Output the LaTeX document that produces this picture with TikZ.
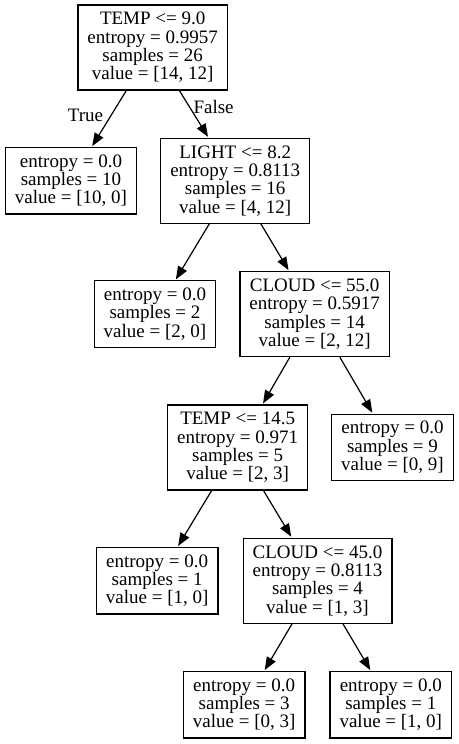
\documentclass[tikz,border=0pt]{standalone}
\usepackage{fontspec}
\setmainfont{Liberation Serif}
\usepackage{tikz}
\usetikzlibrary{arrows.meta,positioning}

\begin{document}
\begin{tikzpicture}[->,>={Triangle[length=13bp,width=10bp]},shorten >=1pt,auto,
                    node distance=133.3bp, line width=1.2bp,
                    font=\fontsize{19bp}{18.3bp}\selectfont]

  \tikzstyle{split} = [draw, rectangle, align=center, inner xsep=9.5bp,
                       inner ysep=4bp, minimum height=85bp]
  \tikzstyle{leaf}  = [draw, rectangle, align=center, inner xsep=9.5bp,
                       inner ysep=4bp, minimum height=66.5bp]
  \useasboundingbox (-152.7bp,47.5bp) rectangle (306.3bp,-696.5bp);

  \node[split] (A)                                {TEMP <= 9.0\\entropy = 0.9957\\samples = 26\\value = [14, 12]};
  \node[leaf]  (B) [below of=A, xshift=-81.7bp]   {entropy = 0.0\\samples = 10\\value = [10, 0]};
  \node[split] (C) [below of=A, xshift=82.5bp]    {LIGHT <= 8.2\\entropy = 0.8113\\samples = 16\\value = [4, 12]};
  \node[leaf]  (D) [below of=C, xshift=-80.2bp]   {entropy = 0.0\\samples = 2\\value = [2, 0]};
  \node[split] (E) [below of=C, xshift=79.5bp]    {CLOUD <= 55.0\\entropy = 0.5917\\samples = 14\\value = [2, 12]};
  \node[split] (F) [below of=E, xshift=-77bp]     {TEMP <= 14.5\\entropy = 0.971\\samples = 5\\value = [2, 3]};
  \node[leaf]  (G) [below of=E, xshift=77.8bp]    {entropy = 0.0\\samples = 9\\value = [0, 9]};
  \node[leaf]  (H) [below of=F, xshift=-80.5bp]   {entropy = 0.0\\samples = 1\\value = [1, 0]};
  \node[split] (I) [below of=F, xshift=79.8bp]    {CLOUD <= 45.0\\entropy = 0.8113\\samples = 4\\value = [1, 3]};
  \node[leaf]  (J) [below of=I, xshift=-73.3bp, yshift=9.2bp] {entropy = 0.0\\samples = 3\\value = [0, 3]};
  \node[leaf]  (K) [below of=I, xshift=73.3bp, yshift=9.2bp]  {entropy = 0.0\\samples = 1\\value = [1, 0]};

  \path (A) edge  node [pos=0.44, left=4bp]  {True}  (B)
        (A) edge  node [pos=0.35, right=0bp] {False} (C)
        (C) edge  (D)
        (C) edge  (E)
        (E) edge  (F)
        (E) edge  (G)
        (F) edge  (H)
        (F) edge  (I)
        (I) edge  (J)
        (I) edge  (K);
\end{tikzpicture}
\end{document}
